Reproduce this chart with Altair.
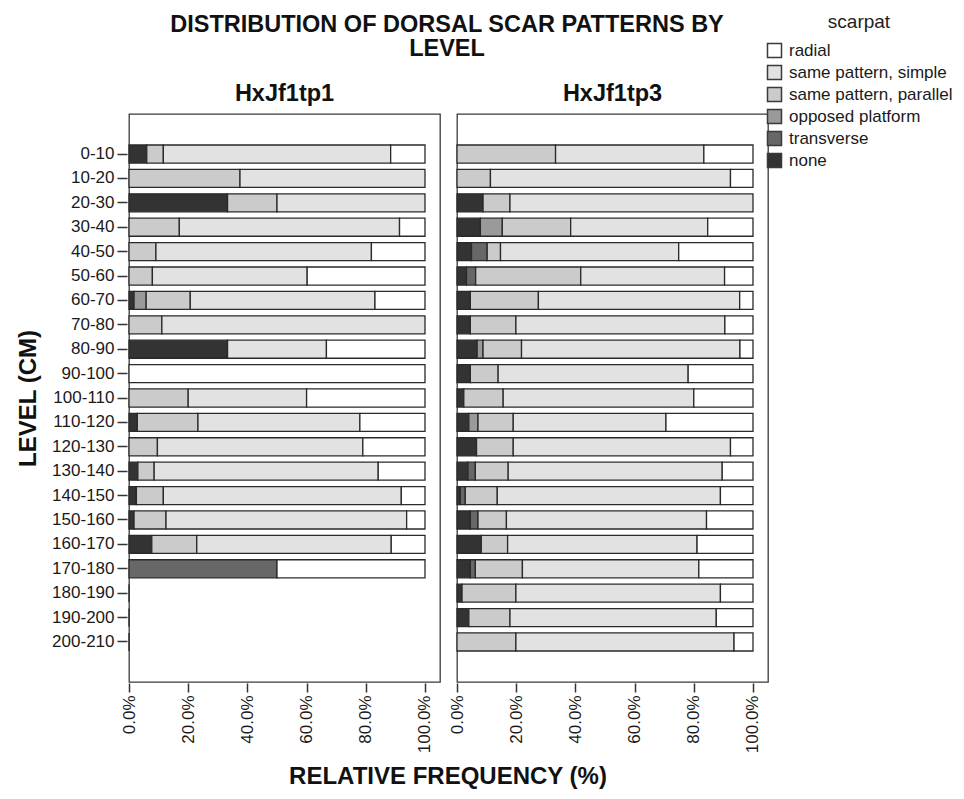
import altair as alt
import pandas as pd

# Depth levels (cm), top to bottom
levels = ["0-10", "10-20", "20-30", "30-40", "40-50", "50-60", "60-70", "70-80",
          "80-90", "90-100", "100-110", "110-120", "120-130", "130-140", "140-150",
          "150-160", "160-170", "170-180", "180-190", "190-200", "200-210"]

# Legend order (top to bottom) and greyscale fills
categories = ["radial", "same pattern, simple", "same pattern, parallel",
              "opposed platform", "transverse", "none"]
fills = ["#ffffff", "#e2e2e2", "#cbcbcb", "#9a9a9a", "#676767", "#333333"]

# Stacking order from the left edge of each bar
stack_order = ["none", "transverse", "opposed platform", "same pattern, parallel",
               "same pattern, simple", "radial"]

panels = ["HxJf1tp1", "HxJf1tp3"]

# Relative frequency (%) per level, HxJf1tp1
tp1_none = [6.0, 0, 33.3, 0, 0, 0, 1.7, 0, 33.3, 0, 0, 2.8, 0, 3.0, 2.5, 1.7, 7.7, 0, 0, 0, 0]
tp1_transverse = [0, 0, 0, 0, 0, 0, 0, 0, 0, 0, 0, 0, 0, 0, 0, 0, 0, 50.0, 0, 0, 0]
tp1_opposed = [0, 0, 0, 0, 0, 0, 4.1, 0, 0, 0, 0, 0, 0, 0, 0, 0, 0, 0, 0, 0, 0]
tp1_parallel = [5.6, 37.5, 16.7, 17.0, 9.1, 7.9, 14.9, 11.1, 0, 0, 20.0, 20.5, 9.6, 5.5, 9.1, 10.8, 15.2, 0, 0, 0, 0]
tp1_simple = [76.8, 62.5, 50.0, 74.4, 72.8, 52.3, 62.4, 88.9, 33.4, 0, 40.0, 54.7, 69.4, 75.7, 80.4, 81.3, 65.7, 0, 0, 0, 0]
tp1_radial = [11.6, 0, 0, 8.6, 18.1, 39.8, 16.9, 0, 33.3, 100.0, 40.0, 22.0, 21.0, 15.8, 8.0, 6.2, 11.4, 50.0, 0, 0, 0]

# Relative frequency (%) per level, HxJf1tp3
tp3_none = [0, 0, 8.8, 7.9, 4.9, 3.2, 4.5, 4.5, 6.8, 4.5, 2.3, 4.0, 6.6, 3.7, 1.1, 4.5, 8.2, 4.5, 1.7, 4.0, 0]
tp3_transverse = [0, 0, 0, 0, 5.3, 3.1, 0, 0, 0, 0, 0, 0, 0, 2.5, 1.7, 2.6, 0, 1.7, 0, 0, 0]
tp3_opposed = [0, 0, 0, 7.4, 0, 0, 0, 0, 2.0, 0, 0, 3.1, 0, 0, 0, 0, 0, 0, 0, 0, 0]
tp3_parallel = [33.3, 11.3, 9.1, 23.1, 4.5, 35.5, 23.0, 15.4, 13.0, 9.4, 13.3, 11.9, 12.4, 11.1, 10.8, 9.6, 8.9, 15.9, 18.2, 13.9, 19.9]
tp3_simple = [50.1, 81.1, 82.1, 46.3, 60.2, 48.6, 68.0, 70.6, 73.8, 64.2, 64.4, 51.6, 73.4, 72.3, 75.4, 67.6, 64.0, 59.6, 69.1, 69.7, 73.7]
tp3_radial = [16.6, 7.6, 0, 15.3, 25.1, 9.6, 4.5, 9.5, 4.4, 21.9, 20.0, 29.4, 7.6, 10.4, 11.0, 15.7, 18.9, 18.3, 11.0, 12.4, 6.4]

series = {
    "HxJf1tp1": {"none": tp1_none, "transverse": tp1_transverse,
                 "opposed platform": tp1_opposed, "same pattern, parallel": tp1_parallel,
                 "same pattern, simple": tp1_simple, "radial": tp1_radial},
    "HxJf1tp3": {"none": tp3_none, "transverse": tp3_transverse,
                 "opposed platform": tp3_opposed, "same pattern, parallel": tp3_parallel,
                 "same pattern, simple": tp3_simple, "radial": tp3_radial},
}

rows = []
for panel in panels:
    for i, level in enumerate(levels):
        total = sum(series[panel][c][i] for c in stack_order)
        if total == 0:
            # empty level: a zero-width bar so the row still registers
            rows.append({"panel": panel, "level": level, "category": "none",
                         "pct": 0.0, "rank": 0})
            continue
        for rank, cat in enumerate(stack_order):
            v = series[panel][cat][i]
            if v > 0:
                rows.append({"panel": panel, "level": level, "category": cat,
                             "pct": v, "rank": rank})
df = pd.DataFrame(rows)

FONT = "Liberation Sans"

bars = alt.Chart(df).mark_bar(stroke="#2a2a2a", strokeWidth=1.3).encode(
    x=alt.X("pct:Q", stack="zero",
            scale=alt.Scale(domain=[0, 105.07], nice=False, zero=True),
            axis=alt.Axis(values=[0, 20, 40, 60, 80, 100],
                          labelExpr="format(datum.value, '.1f') + '%'",
                          labelAngle=270, labelFontSize=17, labelPadding=3,
                          tickSize=9, tickWidth=1.5, tickColor="#333",
                          grid=False, domain=False, title=None)),
    y=alt.Y("level:N", sort=levels,
            scale=alt.Scale(range=[31, 537], paddingInner=0.26, paddingOuter=0),
            axis=alt.Axis(title="LEVEL (CM)", labelFontSize=17, labelPadding=3,
                          tickSize=10, tickWidth=1.5, tickColor="#333",
                          domain=False, grid=False, titleFontSize=24,
                          titleFontWeight="bold", titlePadding=11)),
    color=alt.Color("category:N",
                    scale=alt.Scale(domain=categories, range=fills),
                    legend=alt.Legend(title="scarpat", orient="none",
                                      legendX=637, legendY=-101,
                                      titleFontSize=19, titleFontWeight="normal",
                                      titleAnchor="middle", titlePadding=10,
                                      labelFontSize=17, labelOffset=6, labelLimit=300,
                                      symbolType="square", symbolSize=196,
                                      symbolStrokeColor="#3a3a3a",
                                      symbolStrokeWidth=1.5, rowPadding=1)),
    order=alt.Order("rank:Q", sort="ascending"),
).properties(width=311, height=568)

chart = bars.facet(
    column=alt.Column("panel:N", sort=panels, title="RELATIVE FREQUENCY (%)",
                      header=alt.Header(labelFontSize=23.5, labelFontWeight="bold",
                                        labelFont=FONT, labelColor="#111",
                                        labelPadding=8, labelOrient="top",
                                        titleOrient="bottom", titleFontSize=24,
                                        titleFontWeight="bold", titleFont=FONT,
                                        titleColor="#111", titlePadding=2)),
    spacing=14,
).properties(
    title=alt.Title(["DISTRIBUTION OF DORSAL SCAR PATTERNS BY", "LEVEL"],
                    fontSize=23.5, fontWeight="bold", font=FONT, color="#111",
                    anchor="start", frame="group", align="center", dx=318,
                    lineHeight=24, offset=-47),
    padding={"left": 16, "top": 12, "right": 5, "bottom": 5},
    background="white",
).configure(
    font=FONT,
).configure_view(
    stroke="#3a3a3a", strokeWidth=1.3,
).configure_axis(
    labelFont=FONT, titleFont=FONT, labelColor="#1a1a1a", titleColor="#111",
).configure_legend(
    labelFont=FONT, titleFont=FONT, labelColor="#1a1a1a", titleColor="#222",
)

chart.save("out.html", embed_options={"renderer": "svg", "actions": False})
